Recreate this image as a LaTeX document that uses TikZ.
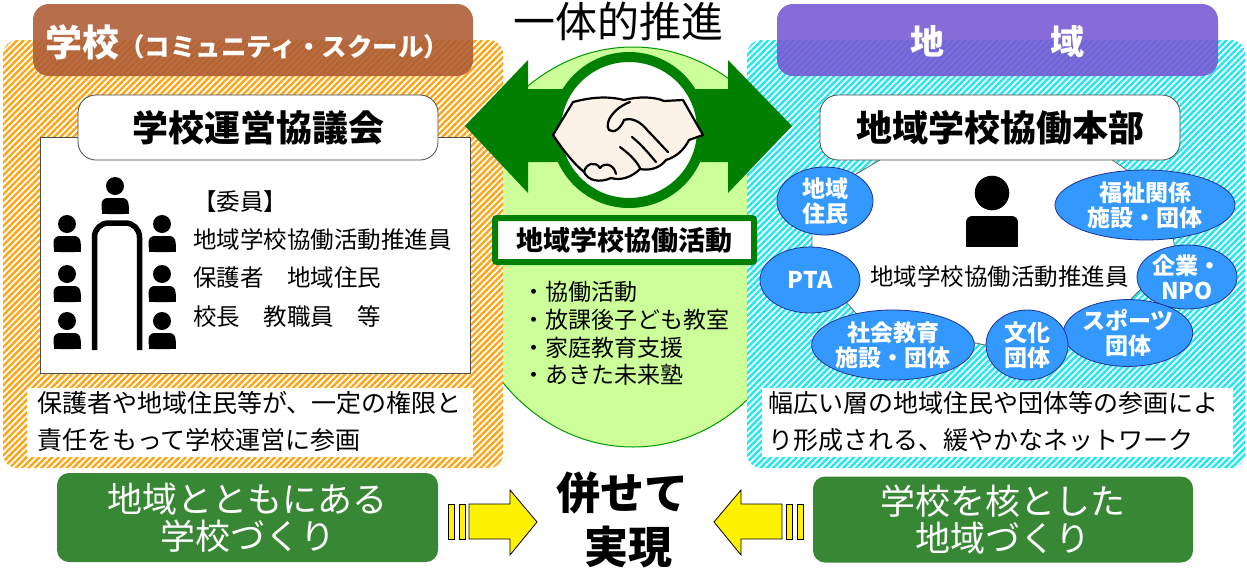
\documentclass[tikz,border=0pt]{standalone}
\usepackage{fontspec}
\setmainfont{Noto Sans CJK JP}
\usepackage{tikz}
\usetikzlibrary{positioning, shapes.geometric, patterns.meta}
\usepackage{xcolor}

\definecolor{schoolbrown}{RGB}{172,90,50}
\definecolor{areapurple}{RGB}{117,86,212}
\definecolor{stripeorange}{RGB}{255,165,20}
\definecolor{stripecyan}{RGB}{30,232,240}
\definecolor{leafgreen}{RGB}{204,255,153}
\definecolor{deepgreen}{RGB}{0,128,0}
\definecolor{boxgreen}{RGB}{56,135,52}
\definecolor{netblue}{RGB}{51,153,255}
\definecolor{netedge}{RGB}{30,50,150}
\definecolor{skin}{RGB}{253,242,232}

\newcommand{\fsz}[2]{\fontsize{#1}{#2}\selectfont}

\begin{document}
\begin{tikzpicture}[x=1pt, y=-1pt,
                  panel/.style={rounded corners=14pt, fill=white,
                              postaction={pattern={Lines[angle=45, distance=4.5pt, line width=2.4pt]},
                                          pattern color=#1}},
                  header/.style={rounded corners=16pt, fill=#1, fill opacity=0.88},
                  titlebox/.style={draw=black!70, line width=0.8pt, fill=white,
                              rounded corners=18pt, font=\fsz{36}{36}\bfseries},
                  plain/.style={inner sep=0pt, anchor=west},
                  group/.style={ellipse, draw=netedge, line width=0.8pt, fill=netblue,
                              text=white, font=\fsz{23}{25}\bfseries, align=center, inner sep=0pt},
                  goal/.style={rounded corners=12pt, fill=boxgreen, text=white,
                              align=center, font=\fsz{35}{37}},
                  pusher/.style={fill=yellow, draw=black, line width=0.8pt},
                  person/.pic={
                        \fill (0,0) circle (9);
                        \fill[rounded corners=6pt] (-13.5,12) rectangle (13.5,28);
                        \fill (-13.5,20) rectangle (13.5,28);
                  },
            ]
            \useasboundingbox (0,0) rectangle (1247,573);

            % shared activity area and the two sides
            \draw[draw=green!60!black, fill=leafgreen, line width=1pt] (633,247) ellipse (177 and 200);
            \path[panel=stripeorange] (3,40) rectangle (503,468);
            \path[panel=stripecyan] (747,40) rectangle (1245,468);
            \path[header=schoolbrown] (33,4) rectangle (473,76);
            \path[header=areapurple] (777,4) rectangle (1218,76);
            \node[plain, text=white] (schoolhead) at (45,42)
                  {{\fsz{37}{37}\bfseries 学校}{\fsz{25.5}{25.5}\bfseries （コミュニティ・スクール）}};
            \node[text=white, font=\fsz{34}{34}\bfseries] (areahead) at (997,42) {地\hspace{106pt}域};

            % double arrow with handshake
            \fill[deepgreen] (465,126) -- (528,60) -- (528,89) -- (728,89) -- (728,60) -- (792,126)
                  -- (728,193) -- (728,162) -- (528,162) -- (528,193) -- cycle;
            \node[circle, draw=deepgreen, line width=10pt, fill=white, minimum size=146pt] (ring) at (629,130) {};
            \filldraw[fill=skin, draw=black, line width=2.2pt, line join=round]
                  (553,135) -- (573,102) .. controls (592,97) and (608,96) .. (624,100)
                  .. controls (640,96) and (655,97) .. (664,101) -- (683,100) -- (703,135)
                  -- (689,140) .. controls (684,150) and (676,157) .. (666,160)
                  .. controls (660,168) and (650,171) .. (640,169)
                  .. controls (632,177) and (621,181) .. (611,178)
                  .. controls (600,183) and (588,181) .. (584,172)
                  .. controls (574,164) and (563,150) .. (553,135) -- cycle;
            \draw[line width=2.2pt, line cap=round]
                  (630,102) .. controls (614,108) and (604,122) .. (609,130)
                  .. controls (614,134) and (621,128) .. (624,120)
                  .. controls (632,117) and (641,122) .. (648,131)
                  .. controls (655,138) and (662,146) .. (668,152);
            \draw[line width=2.2pt, line cap=round] (632,137) .. controls (642,145) and (650,155) .. (656,162);
            \draw[line width=2.2pt, line cap=round] (620,147) .. controls (628,153) and (636,160) .. (640,168);
            \draw[line width=2.2pt, line cap=round] (584,172) .. controls (586,163) and (596,161) .. (600,168);
            \draw[line width=2.2pt, line cap=round] (600,168) .. controls (604,162) and (614,164) .. (616,174);
            \node[font=\fsz{42}{42}] (unity) at (618,21) {一体的推進};

            % activities
            \node[draw=deepgreen, line width=6pt, fill=white, rounded corners=2pt,
                  minimum width=259pt, minimum height=44pt, font=\fsz{27}{27}\bfseries]
                  (activity) at (624.5,240) {地域学校協働活動};
            \node[plain, align=left, font=\fsz{23}{27.7}] (acts) at (522,333.5)
                  {・協働活動\\・放課後子ども教室\\・家庭教育支援\\・あきた未来塾};

            % school side
            \draw[draw=black!70, line width=0.8pt, fill=white] (40,137) rectangle (470,373);
            \node[titlebox, minimum width=360pt, minimum height=65pt] (council) at (258,127.5) {学校運営協議会};
            \pic at (115,186) {person};
            \foreach \y in {224,274,321} {
                  \pic at (67,\y) {person};
                  \pic at (162,\y) {person};
            }
            \draw[line width=5.5pt, rounded corners=14pt] (94.5,350) -- (94.5,223) -- (139.5,223) -- (139.5,350);
            \node[plain, font=\fsz{23.5}{23.5}] (members) at (193,202) {【委員】};
            \node[plain, font=\fsz{23.5}{23.5}] (coordinator) at (193,240) {地域学校協働活動推進員};
            \node[plain, font=\fsz{23.5}{23.5}] (parents) at (193,278) {保護者　地域住民};
            \node[plain, font=\fsz{23.5}{23.5}] (principal) at (193,317) {校長　教職員　等};
            \fill[white] (27,388) rectangle (473,457);
            \node[plain, align=left, font=\fsz{25}{37}] (schoolnote) at (37,421.5)
                  {保護者や地域住民等が、一定の権限と\\責任をもって学校運営に参画};

            % community side
            \draw[draw=black!60, line width=0.8pt, fill=white] (885,157) -- (812,200) -- (812,262)
                  -- (860,318) -- (985,345) -- (1105,325) -- (1175,255) -- (1170,200) -- (1108,157) -- cycle;
            \node[titlebox, minimum width=360pt, minimum height=65pt] (office) at (1000,127.5) {地域学校協働本部};
            \pic[scale=1.92] at (992,193) {person};
            \node[plain, font=\fsz{23.5}{23.5}] (promoter) at (870,277) {地域学校協働活動推進員};
            \node[group, minimum width=180pt, minimum height=70pt] (welfare) at (1145,205) {福祉関係\\施設・団体};
            \node[group, minimum width=100pt, minimum height=64pt] (company) at (1187,277) {企業・\\NPO};
            \node[group, minimum width=104pt, minimum height=64pt] (sports) at (1128,333) {スポーツ\\団体};
            \node[group, minimum width=82pt, minimum height=70pt] (culture) at (1027,345) {文化\\団体};
            \node[group, minimum width=162pt, minimum height=70pt] (social) at (893,345) {社会教育\\施設・団体};
            \node[group, minimum width=100pt, minimum height=66pt] (pta) at (810,280) {PTA};
            \node[group, minimum width=96pt, minimum height=68pt] (resident) at (825,201) {地域\\住民};
            \fill[white] (762,388) rectangle (1233,457);
            \node[plain, align=left, font=\fsz{25}{37}] (areanote) at (768,421.5)
                  {幅広い層の地域住民や団体等の参画によ\\り形成される、緩やかなネットワーク};

            % realised together
            \node[goal, minimum width=381pt, minimum height=89pt] (schoolgoal) at (247.5,517.5) {地域とともにある\\学校づくり};
            \node[goal, minimum width=380pt, minimum height=86pt] (areagoal) at (1003,519.5) {学校を核とした\\地域づくり};
            \filldraw[pusher] (448,504) rectangle (454,539);
            \filldraw[pusher] (459,504) rectangle (465,539);
            \filldraw[pusher] (469,504) -- (510,504) -- (510,490) -- (537,522) -- (510,555) -- (510,539) -- (469,539) -- cycle;
            \filldraw[pusher] (797,504) rectangle (803,539);
            \filldraw[pusher] (786,504) rectangle (792,539);
            \filldraw[pusher] (782,504) -- (741,504) -- (741,490) -- (714,522) -- (741,555) -- (741,539) -- (782,539) -- cycle;
            \node[font=\fsz{44}{44}\bfseries] (together) at (622,493) {併せて};
            \node[font=\fsz{44}{44}\bfseries] (realise) at (628,547) {実現};
      \end{tikzpicture}
\end{document}
